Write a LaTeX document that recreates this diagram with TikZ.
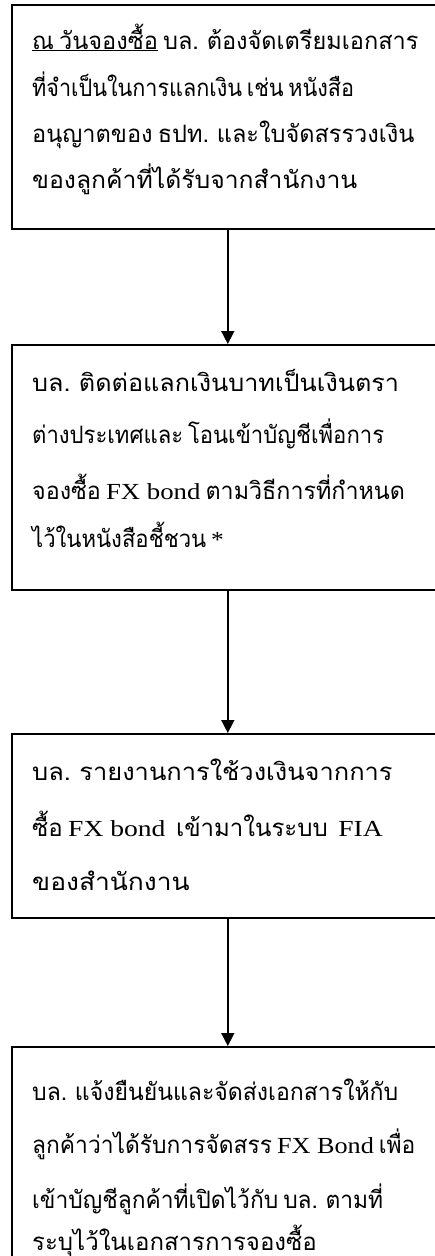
\documentclass[tikz,border=0pt]{standalone}
\usepackage{fontspec}
\setmainfont[Script=Thai,WordSpace=0.65]{Loma}
\newfontfamily\latinfont[FakeStretch=1.2]{Liberation Serif}
\usetikzlibrary{arrows.meta}
\tikzset{
  box/.style={draw=black, line width=1.6pt, rectangle, minimum width=432pt, anchor=north west, inner sep=0pt},
  txt/.style={anchor=base west, inner sep=0pt, font=\fontsize{24pt}{28pt}\selectfont},
  flow/.style={line width=1.6pt, -{Triangle[length=13pt,width=13pt]}},
}
\newcommand{\lt}[1]{{\latinfont\fontsize{23pt}{28pt}\selectfont #1}}
\newcommand{\sx}[2]{\scalebox{#1}[1]{#2}}
\begin{document}
\begin{tikzpicture}[x=1pt,y=1pt]
\useasboundingbox (0,0) rectangle (435,-1256);
\clip (0,0) rectangle (435,-1256);
\node[box, minimum height=224pt] (b1) at (11,-4) {};
\node[box, minimum height=245pt] (b2) at (11,-344) {};
\node[box, minimum height=184pt] (b3) at (11,-733) {};
\node[box, minimum height=230pt] (b4) at (11,-1046) {};
\draw[flow] (b1.south) -- (b2.north);
\draw[flow] (b2.south) -- (b3.north);
\draw[flow] (b3.south) -- (b4.north);
% box 1
\node[txt] (t11) at (32,-49) {\sx{0.98}{\underline{ณ วันจองซื้อ} บล. ต้องจัดเตรียมเอกสาร}};
\node[txt] (t12) at (32,-96) {\sx{0.9}{ที่จำเป็นในการแลกเงิน เช่น หนังสือ}};
\node[txt] (t13) at (32,-142) {\sx{0.98}{อนุญาตของ ธปท. และใบจัดสรรวงเงิน}};
\node[txt] (t14) at (32,-188) {\sx{1.03}{ของลูกค้าที่ได้รับจากสำนักงาน}};
% box 2
\node[txt] (t21) at (32,-391) {\sx{1.05}{บล. ติดต่อแลกเงินบาทเป็นเงินตรา}};
\node[txt] (t22) at (32,-443) {\sx{0.92}{ต่างประเทศและ โอนเข้าบัญชีเพื่อการ}};
\node[txt] (t23) at (32,-499) {\sx{0.97}{จองซื้อ \lt{FX bond} ตามวิธีการที่กำหนด}};
\node[txt] (t24) at (32,-547) {\sx{0.92}{ไว้ในหนังสือชี้ชวน \lt{*}}};
% box 3
\node[txt] (t31) at (32,-780) {\sx{1.06}{บล. รายงานการใช้วงเงินจากการ}};
\node[txt] (t32) at (32,-836) {\sx{1.0}{ซื้อ \lt{FX bond}\ \ เข้ามาในระบบ\ \ \lt{FIA}}};
\node[txt] (t33) at (32,-890) {\sx{1.1}{ของสำนักงาน}};
% box 4
\node[txt] (t41) at (32,-1100) {\sx{0.96}{บล. แจ้งยืนยันและจัดส่งเอกสารให้กับ}};
\node[txt] (t42) at (32,-1153) {\sx{0.95}{ลูกค้าว่าได้รับการจัดสรร \lt{FX Bond} เพื่อ}};
\node[txt] (t43) at (32,-1208) {\sx{0.95}{เข้าบัญชีลูกค้าที่เปิดไว้กับ บล. ตามที่}};
\node[txt] (t44) at (32,-1250) {\sx{1.0}{ระบุไว้ในเอกสารการจองซื้อ}};
\end{tikzpicture}
\end{document}
